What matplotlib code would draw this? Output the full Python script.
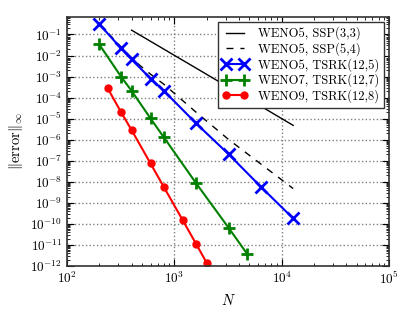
import numpy as np
import matplotlib
matplotlib.use("Agg")
import matplotlib.pyplot as plt
from matplotlib.ticker import LogLocator, NullFormatter

plt.rcParams["font.family"] = "serif"
plt.rcParams["font.serif"] = ["cmr10", "DejaVu Serif"]
plt.rcParams["mathtext.fontset"] = "cm"
plt.rcParams["axes.formatter.use_mathtext"] = True
plt.rcParams["font.size"] = 9.5

# reference lines
n_ssp33 = [400, 800, 1600, 3200, 6400, 12800]
e_ssp33 = [0.16, 0.02, 2.5e-3, 3.1e-4, 3.9e-5, 4.8e-6]

n_ssp54 = [200, 320, 400, 600, 800, 1600, 3200, 6400, 12800]
e_ssp54 = [0.33, 0.025, 7.2e-3, 1.3e-3, 4.3e-4, 2.0e-5, 1.03e-6, 7.0e-8, 4.8e-9]

# TSRK runs
n_w5 = [200, 320, 400, 600, 800, 1600, 3200, 6400, 12800]
e_w5 = [0.31, 0.0216, 6.5e-3, 8.1e-4, 2.1e-4, 5.9e-6, 2.07e-7, 5.8e-9, 1.83e-10]

n_w7 = [200, 320, 400, 600, 800, 1600, 3200, 4800]
e_w7 = [0.0335, 9.7e-4, 2.1e-4, 1.03e-5, 1.29e-6, 8.4e-9, 6.6e-11, 3.6e-12]

n_w9 = [240, 320, 400, 600, 800, 1200, 1600, 2000]
e_w9 = [2.73e-4, 1.98e-5, 2.86e-6, 7.5e-8, 5.6e-9, 1.47e-10, 1.1e-11, 1.43e-12]

fig = plt.figure(figsize=(4.15, 3.12), dpi=100)
ax = fig.add_axes([0.1614, 0.1474, 0.7759, 0.7991])

ax.loglog(n_ssp33, e_ssp33, "k-", lw=1.0, label="WENO5, SSP(3,3)")
ax.loglog(n_ssp54, e_ssp54, "k--", lw=1.0, dashes=(5, 5), label="WENO5, SSP(5,4)")
ax.loglog(n_w5, e_w5, "bx-", lw=1.5, ms=9, mew=2, label="WENO5, TSRK(12,5)")
ax.loglog(n_w7, e_w7, "g+-", lw=1.5, ms=8, mew=2, label="WENO7, TSRK(12,7)")
ax.loglog(n_w9, e_w9, "ro-", lw=1.5, ms=5, label="WENO9, TSRK(12,8)")

ax.set_xlim(1e2, 1e5)
ax.set_ylim(1e-12, 0.7)
ax.yaxis.set_major_locator(LogLocator(base=10, numticks=20))
ax.yaxis.set_minor_locator(LogLocator(base=10, subs=np.arange(2, 10), numticks=100))
ax.yaxis.set_minor_formatter(NullFormatter())

ax.grid(True, which="major", linestyle=":", color="gray", lw=1.0)
ax.tick_params(which="both", direction="in", top=True, right=True)
ax.tick_params(which="major", length=5)
ax.tick_params(which="minor", length=2.5)
for s in ax.spines.values():
    s.set_linewidth(1.2)
    s.set_color("#333333")

ax.set_xlabel(r"$N$", fontsize=10.5)
ax.set_ylabel(r"$\|\mathrm{error}\|_\infty$", fontsize=10.5)

leg = ax.legend(loc="upper right", fancybox=False, edgecolor="#333333",
                numpoints=2, handlelength=2.0, labelspacing=0.15,
                borderaxespad=0.4, framealpha=1.0, fontsize=9)
leg.get_frame().set_linewidth(1.0)

fig.savefig("out.png", dpi=100)
